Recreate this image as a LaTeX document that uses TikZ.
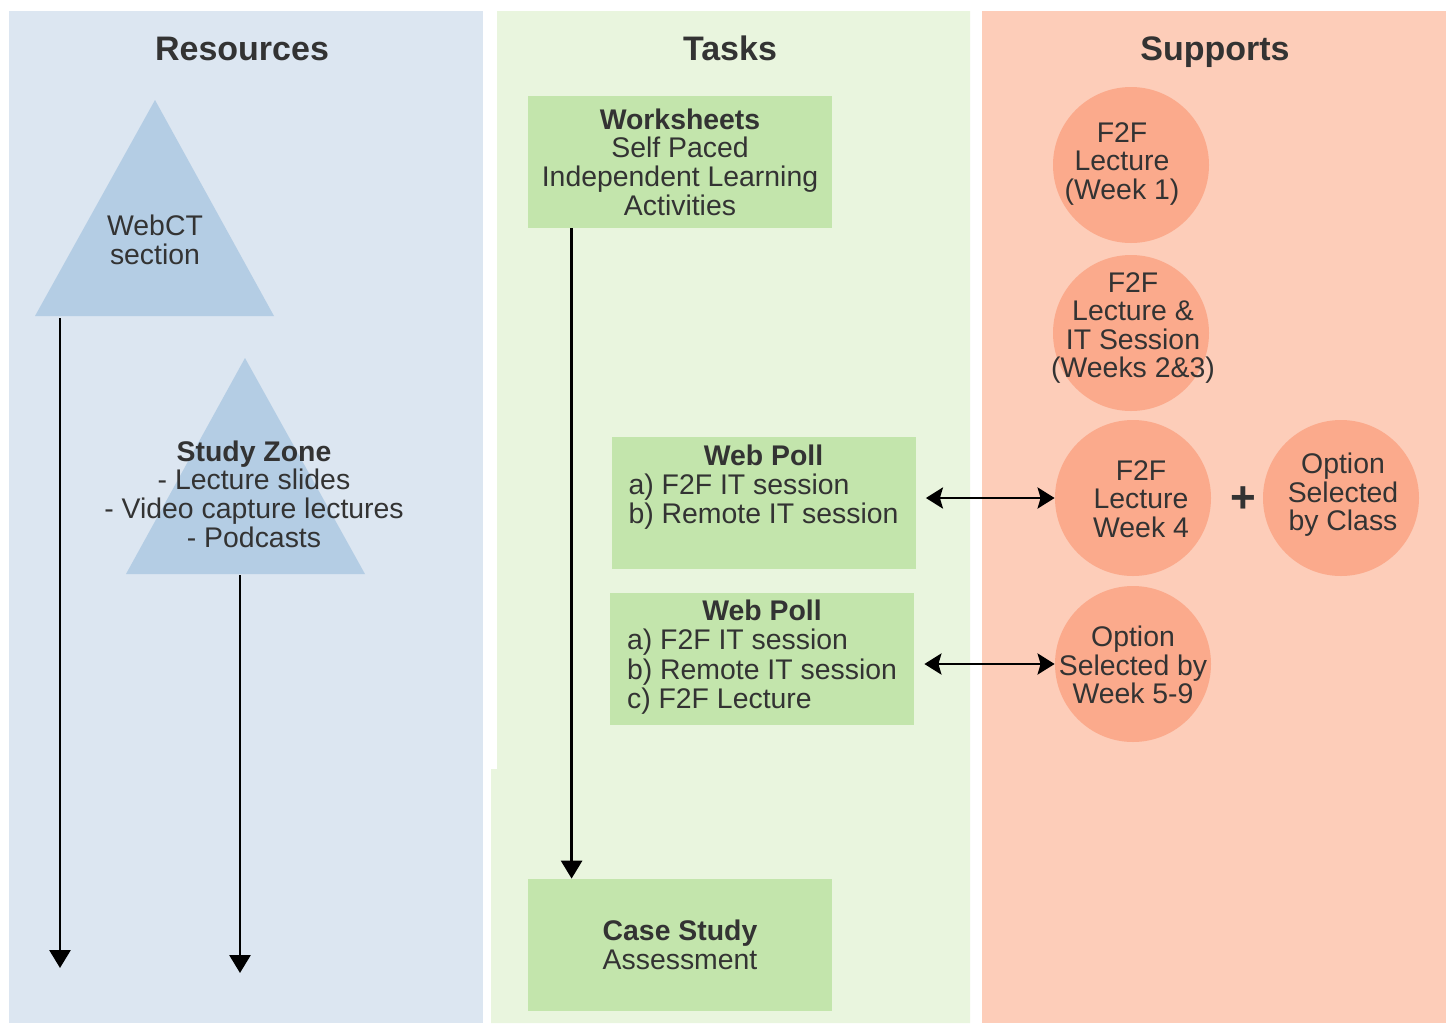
\documentclass[tikz,border=0pt]{standalone}
\usepackage{fontspec}
\setmainfont{Liberation Sans}
\usetikzlibrary{arrows.meta}
\definecolor{txt}{HTML}{333333}
\definecolor{resbg}{HTML}{DCE6F1}
\definecolor{taskbg}{HTML}{E9F5DE}
\definecolor{suppbg}{HTML}{FDCDB9}
\definecolor{trifill}{HTML}{B4CDE4}
\definecolor{boxfill}{HTML}{C3E5AC}
\definecolor{circfill}{HTML}{FBAA8C}
\tikzset{
  coltitle/.style={font=\fontsize{17}{17}\selectfont\bfseries, text=txt, anchor=base, inner sep=0pt},
  body/.style={font=\fontsize{14.2}{14.3}\selectfont, text=txt, align=center, inner sep=0pt},
  taskbox/.style={body, rectangle, fill=boxfill, minimum width=152pt, minimum height=66pt},
  support/.style={circle, fill=circfill, minimum size=78pt, inner sep=0pt},
  arr/.style={line width=1.45pt, -{Triangle[width=10.5pt,length=9pt]}},
  dbl/.style={line width=1.45pt, {Stealth[width=10.5pt,length=8.5pt,inset=1.5pt]}-{Stealth[width=10.5pt,length=8.5pt,inset=1.5pt]}}
}
\newcommand{\polltab}[1]{\begin{tabular}{@{}l@{}}#1\end{tabular}}

\begin{document}
\begin{tikzpicture}[x=0.5pt, y=-0.5pt]
% page
\useasboundingbox (0,0) rectangle (1446,1023);
\fill[white] (0,0) rectangle (1446,1023);

% columns
\fill[resbg] (9,11) rectangle (483,1023);
\fill[taskbg] (497,11) -- (970,11) -- (970,1023) -- (491,1023) -- (491,769) -- (497,769) -- cycle;
\fill[suppbg] (982,11) rectangle (1446,1023);
\node[coltitle] (restitle) at (242,60) {Resources};
\node[coltitle] (tasktitle) at (730,60) {Tasks};
\node[coltitle] (supptitle) at (1215,60) {Supports};

% resources
\fill[trifill] (155,100) -- (274,316) -- (35,316) -- cycle;
\fill[trifill] (245,358) -- (365,574) -- (126,574) -- cycle;
\node[body] (webct) at (155,240) {WebCT\\section};
\node[body] (zone) at (254,494) {\textbf{Study Zone}\\- Lecture slides\\- Video capture lectures\\- Podcasts};
\coordinate (webtop) at (60,318);
\coordinate (webend) at (60,968);
\coordinate (zonetop) at (240,575);
\coordinate (zoneend) at (240,973);

% tasks
\node[taskbox] (ws) at (680,162) {\textbf{Worksheets}\\Self Paced\\Independent Learning\\Activities};
\node[taskbox] (poll1) at (763.5,502.5) {\polltab{\multicolumn{1}{@{}c@{}}{\bfseries Web Poll}\\ a) F2F IT session\\ b) Remote IT session\\ \strut}};
\node[taskbox] (poll2) at (762,658.5) {\polltab{\multicolumn{1}{@{}c@{}}{\bfseries Web Poll}\\ a) F2F IT session\\ b) Remote IT session\\ c) F2F Lecture}};
\node[taskbox] (case) at (680,945) {\textbf{Case Study}\\Assessment};

% supports
\node[support, label={[body,xshift=-4.5pt,yshift=0.5pt]center:{F2F\\Lecture\\(Week 1)}}] (c1) at (1131,165) {};
\node[support, label={[body,xshift=1pt,yshift=2.5pt]center:{F2F\\Lecture \&\\IT Session\\(Weeks 2\&3)}}] (c2) at (1131,333) {};
\node[support, label={[body,xshift=4pt,yshift=-0.5pt]center:{F2F\\Lecture\\Week 4}}] (c3) at (1133,498) {};
\node[support, label={[body,xshift=1pt,yshift=1.5pt]center:{Option\\Selected\\by Class}}] (c4) at (1341,498) {};
\node[support, label={[body,yshift=-0.5pt]center:{Option\\Selected by\\Week 5-9}}] (c5) at (1133,664) {};
\node[body, font=\fontsize{22}{22}\selectfont\bfseries] (plus) at (1243,500) {+};

% connectors
\draw[arr] (webtop) -- (webend);
\draw[arr] (zonetop) -- (zoneend);
\draw[arr] ([xshift=22pt]ws.south west) -- ([xshift=22pt]case.north west);
\draw[dbl, shorten <=5pt] (poll1.east |- c3.west) -- (c3.west);
\draw[dbl, shorten <=5pt] (poll2.east |- c5.west) -- (c5.west);
\end{tikzpicture}
\end{document}
